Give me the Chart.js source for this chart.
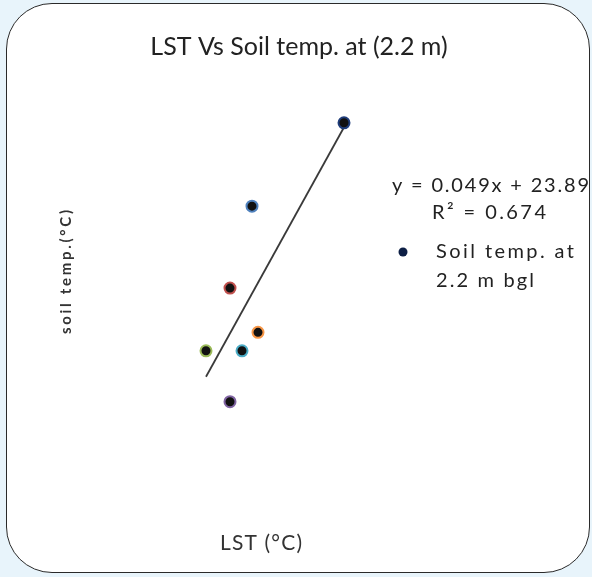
<!DOCTYPE html>
<html><head><meta charset="utf-8">
<script src="https://cdn.jsdelivr.net/npm/chart.js@4"></script>
<style>
html,body{margin:0;padding:0;background:#e8f4fb;width:592px;height:577px;overflow:hidden}
#box{position:absolute;left:6px;top:3px;width:582px;height:568px;background:#fff;border:1.5px solid #2a2a2a;border-radius:46px}
canvas{position:absolute;left:0;top:0}
</style></head><body>
<div id="box"></div>
<canvas id="c" width="592" height="577"></canvas>
<script>
// LST (°C) of each observation
const lstValues = [39.0, 34.4, 33.3, 34.7, 32.1, 33.9, 33.3];
// Soil temperature at 2.2 m bgl (°C)
const soilTempValues = [25.807, 25.694, 25.583, 25.523, 25.498, 25.498, 25.429];
const pointColors = ['#1f3d7a', '#4f81bd', '#c0504d', '#f79646', '#9bbb59', '#4bacc6', '#8064a2'];
// Linear trendline reported on the chart
const trendSlope = 0.049;
const trendIntercept = 23.89;
const trendR2 = 0.674;
const chartTitle = 'LST Vs Soil temp. at (2.2 m)';
const xTitle = 'LST (\u00B0C)';
const yTitle = 'soil temp.(\u00B0C)';
const seriesName = ['Soil temp. at', '2.2 m bgl'];

const points = lstValues.map((x, i) => ({x: x, y: soilTempValues[i]}));
const xMin = Math.min(...lstValues), xMax = Math.max(...lstValues);
const trendPoints = [xMin, xMax].map(x => ({x: x, y: trendSlope * x + trendIntercept}));

function drawSpaced(ctx, text, left, y, width) {
  ctx.letterSpacing = '0px';
  const natural = ctx.measureText(text).width;
  const sp = Math.max(0, (width - natural) / (text.length - 1));
  ctx.letterSpacing = sp + 'px';
  ctx.textAlign = 'left';
  ctx.fillText(text, left, y);
  ctx.letterSpacing = '0px';
}

const annotationPlugin = {
  id: 'annot',
  afterDraw(chart) {
    const ctx = chart.ctx;
    ctx.save();
    ctx.fillStyle = '#222';
    ctx.textBaseline = 'middle';
    ctx.font = '20px Lato';
    drawSpaced(ctx, 'y = ' + trendSlope.toFixed(3) + 'x + ' + trendIntercept.toFixed(2), 392, 186, 197);
    drawSpaced(ctx, 'R\u00B2 = ' + trendR2.toFixed(3), 432, 213, 114);
    drawSpaced(ctx, seriesName[0], 436, 252, 138);
    drawSpaced(ctx, seriesName[1], 436, 281, 98);
    ctx.beginPath();
    ctx.arc(403, 252, 4.5, 0, Math.PI * 2);
    ctx.fillStyle = '#0d1f45';
    ctx.fill();
    // axis titles
    ctx.fillStyle = '#333';
    ctx.font = '21px Lato';
    drawSpaced(ctx, xTitle, 220, 543, 82);
    ctx.save();
    ctx.translate(66, 272);
    ctx.rotate(-Math.PI / 2);
    ctx.font = 'bold 15px Lato';
    drawSpaced(ctx, yTitle, -62, 0, 124);
    ctx.restore();
    ctx.restore();
  }
};

new Chart(document.getElementById('c'), {
  type: 'scatter',
  data: {
    datasets: [
      {
        label: seriesName.join(' '),
        data: points,
        pointRadius: 5.5,
        pointHoverRadius: 5.5,
        pointBackgroundColor: '#111',
        pointBorderColor: pointColors,
        pointBorderWidth: 2
      },
      {
        label: 'Linear',
        type: 'line',
        data: trendPoints,
        showLine: true,
        borderColor: '#3a3a3a',
        borderWidth: 1.8,
        pointRadius: 0,
        fill: false
      }
    ]
  },
  options: {
    responsive: false,
    animation: false,
    devicePixelRatio: 1,
    layout: {padding: {left: 6, right: 0, top: 0, bottom: 0}},
    plugins: {
      legend: {display: false},
      tooltip: {enabled: false},
      title: {
        display: true,
        text: chartTitle,
        color: '#222',
        font: {family: 'Lato', size: 25, weight: 'normal'},
        padding: {top: 32, bottom: 18}
      }
    },
    scales: {
      x: {
        type: 'linear',
        min: 28, max: 43,
        grid: {display: false, drawTicks: false},
        border: {display: false},
        ticks: {display: false},
        afterFit(s) { s.height = 117; }
      },
      y: {
        type: 'linear',
        min: 25.35, max: 25.865,
        grid: {display: false, drawTicks: false},
        border: {display: false},
        ticks: {display: false},
        afterFit(s) { s.width = 118; }
      },
      yRight: {
        type: 'linear',
        position: 'right',
        grid: {display: false, drawTicks: false},
        border: {display: false},
        ticks: {display: false},
        afterFit(s) { s.width = 168; }
      }
    }
  },
  plugins: [annotationPlugin]
});
</script>
</body></html>
